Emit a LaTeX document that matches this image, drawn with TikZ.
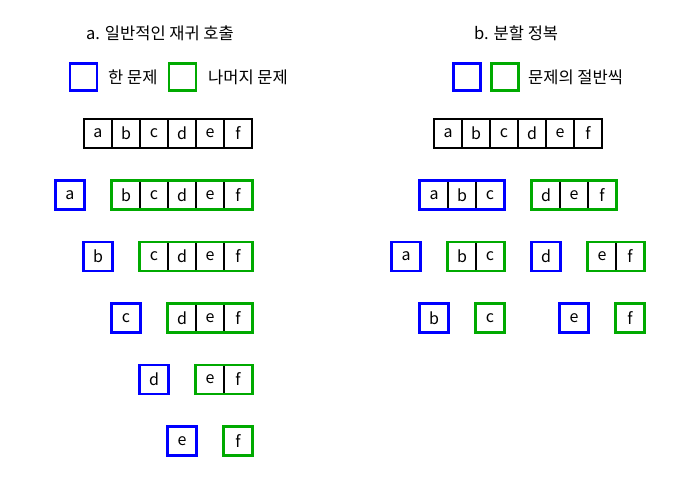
\documentclass[tikz,border=0pt]{standalone}
\usepackage{fontspec}
\setmainfont{Noto Sans CJK KR}
\definecolor{pblue}{RGB}{0,0,255}
\definecolor{pgreen}{RGB}{0,170,0}
\newcommand\cellrow[5]{%
  \foreach \l [count=\i] in {#4} {%
    \node[cell] (#1-\i) at ({#2+28*\i-14},#3) {\l};
    \xdef\lastidx{\i}%
  }%
  \draw[#5] (#1-1.north west) rectangle (#1-\lastidx.south east);
}
\tikzset{
  cell/.style={draw=black, line width=1.1pt, minimum width=28pt, minimum height=28pt, inner sep=0pt, font=\fontsize{16}{19}\selectfont},
  bluebox/.style={draw=pblue, line width=2.6pt},
  greenbox/.style={draw=pgreen, line width=2.6pt},
  plainbox/.style={draw=black, line width=1.1pt},
  legblue/.style={draw=pblue, line width=2.6pt, minimum size=27pt, inner sep=0pt},
  leggreen/.style={draw=pgreen, line width=2.6pt, minimum size=27pt, inner sep=0pt},
  lbl/.style={anchor=west, inner sep=0pt, font=\fontsize{16.5}{20}\selectfont},
}
\begin{document}
\begin{tikzpicture}[x=1pt,y=-1pt]
\useasboundingbox (0,0) rectangle (700,480);
% titles
\node[lbl] (ta) at (86,33) {a. 일반적인 재귀 호출};
\node[lbl] (tb) at (474,33) {b. 분할 정복};
% legends
\node[legblue] (la1) at (83.3,77) {};
\node[lbl] (la1t) at (108,77) {한 문제};
\node[leggreen] (la2) at (182.5,77) {};
\node[lbl] (la2t) at (208,77) {나머지 문제};
\node[legblue] (lb1) at (466.7,77) {};
\node[leggreen] (lb2) at (504.7,77) {};
\node[lbl] (lb2t) at (528,77) {문제의 절반씩};
% left: ordinary recursion
\cellrow{L0}{84}{133.5}{a,b,c,d,e,f}{plainbox}
\cellrow{L1a}{56}{195}{a}{bluebox}
\cellrow{L1b}{112}{195}{b,c,d,e,f}{greenbox}
\cellrow{L2a}{84}{256.5}{b}{bluebox}
\cellrow{L2b}{140}{256.5}{c,d,e,f}{greenbox}
\cellrow{L3a}{112}{318}{c}{bluebox}
\cellrow{L3b}{168}{318}{d,e,f}{greenbox}
\cellrow{L4a}{140}{379.5}{d}{bluebox}
\cellrow{L4b}{196}{379.5}{e,f}{greenbox}
\cellrow{L5a}{168}{441}{e}{bluebox}
\cellrow{L5b}{224}{441}{f}{greenbox}
% right: divide and conquer
\cellrow{R0}{434}{133.5}{a,b,c,d,e,f}{plainbox}
\cellrow{R1a}{420}{195}{a,b,c}{bluebox}
\cellrow{R1b}{532}{195}{d,e,f}{greenbox}
\cellrow{R2a}{392}{256.5}{a}{bluebox}
\cellrow{R2b}{448}{256.5}{b,c}{greenbox}
\cellrow{R2c}{532}{256.5}{d}{bluebox}
\cellrow{R2d}{588}{256.5}{e,f}{greenbox}
\cellrow{R3a}{420}{318}{b}{bluebox}
\cellrow{R3b}{476}{318}{c}{greenbox}
\cellrow{R3c}{560}{318}{e}{bluebox}
\cellrow{R3d}{616}{318}{f}{greenbox}
\end{tikzpicture}
\end{document}
